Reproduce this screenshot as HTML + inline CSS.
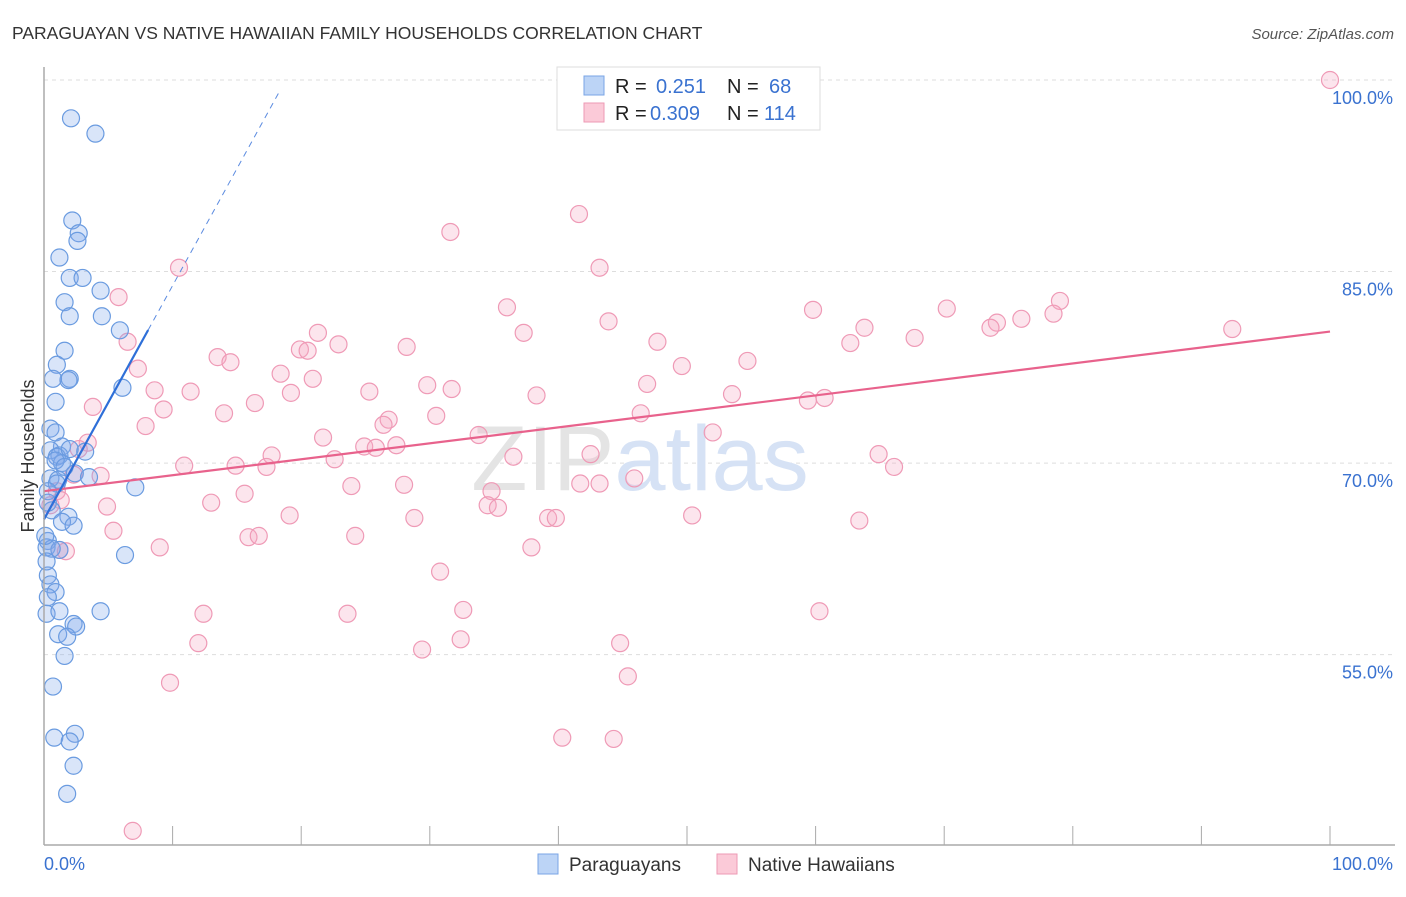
<!DOCTYPE html>
<html><head><meta charset="utf-8"><style>
body{margin:0;background:#fff;font-family:"Liberation Sans",sans-serif;}
svg text{font-family:"Liberation Sans",sans-serif;}
</style></head><body>
<svg id="chart" width="1406" height="892" xmlns="http://www.w3.org/2000/svg">
<text x="12" y="39" font-size="17.5" fill="#333">PARAGUAYAN VS NATIVE HAWAIIAN FAMILY HOUSEHOLDS CORRELATION CHART</text>
<text x="1394" y="39" font-size="15" fill="#555" font-style="italic" text-anchor="end">Source: ZipAtlas.com</text>
<g id="grid"></g>
<text x="640" y="490" font-size="92" fill="#e4e4e4" font-family="Liberation Serif" text-anchor="middle">ZIP<tspan fill="#d6e2f5" font-family="Liberation Sans">atlas</tspan></text>
<g id="pts"></g>
<g id="lines"></g>
<g id="axes"></g>
<text transform="translate(34,456) rotate(-90)" font-size="18" fill="#333" text-anchor="middle">Family Households</text>
<g>
<rect x="557" y="67" width="263" height="63" fill="#fff" stroke="#ddd"/>
<rect x="584" y="76" width="20" height="19" fill="#bcd4f6" stroke="#7aa5e6"/>
<rect x="584" y="103" width="20" height="19" fill="#fbcad8" stroke="#ee9ab4"/>
<text x="615" y="93" font-size="20" fill="#222">R = </text><text x="656" y="93" font-size="20" fill="#3a72d0">0.251</text>
<text x="727" y="93" font-size="20" fill="#222">N = </text><text x="769" y="93" font-size="20" fill="#3a72d0">68</text>
<text x="615" y="120" font-size="20" fill="#222">R = </text><text x="650" y="120" font-size="20" fill="#3a72d0">0.309</text>
<text x="727" y="120" font-size="20" fill="#222">N = </text><text x="764" y="120" font-size="20" fill="#3a72d0">114</text>
</g>
<g>
<rect x="538" y="854" width="20" height="20" fill="#bcd4f6" stroke="#7aa5e6"/>
<text x="569" y="871" font-size="19" fill="#333">Paraguayans</text>
<rect x="717" y="854" width="20" height="20" fill="#fbcad8" stroke="#ee9ab4"/>
<text x="748" y="871" font-size="19" fill="#333">Native Hawaiians</text>
</g>
</svg>
<script>
const yTicks=[100,85,70,55];
const yTickLabels=["100.0%","85.0%","70.0%","55.0%"];
const xTicks=[0,10,20,30,40,50,60,70,80,90,100];
const bluePts=[[2.1,97],[4.0,95.8],[2.2,89],[2.7,88],[2.6,87.4],[1.2,86.1],[2.0,84.5],[3.0,84.5],[4.4,83.5],[1.6,82.6],[2.0,81.5],[4.5,81.5],[5.9,80.4],[1.6,78.8],[1.0,77.7],[2.0,76.6],[1.9,76.5],[0.7,76.6],[6.1,75.9],[0.9,74.8],[0.5,72.7],[0.9,72.4],[1.4,71.3],[0.5,71],[1.2,70.6],[1.0,70.5],[3.2,70.9],[1.4,70],[0.9,70.2],[1.6,69.7],[2.4,69.2],[3.5,68.9],[0.5,68.8],[1.1,68.7],[7.1,68.1],[1.0,68.4],[0.3,67.8],[0.6,66.3],[1.9,65.8],[1.4,65.4],[2.3,65.1],[0.3,63.9],[0.2,63.4],[1.2,63.2],[0.6,63.3],[6.3,62.8],[0.3,61.2],[0.5,60.5],[0.9,59.9],[0.3,59.5],[0.2,58.2],[1.2,58.4],[4.4,58.4],[2.3,57.4],[2.5,57.2],[1.1,56.6],[1.8,56.4],[1.6,54.9],[0.7,52.5],[0.8,48.5],[2.4,48.8],[2.0,48.2],[2.3,46.3],[1.8,44.1],[0.2,62.3],[0.1,64.3],[0.3,66.9],[2.0,71.1]];
const pinkPts=[[100,100],[41.6,89.5],[31.6,88.1],[43.2,85.3],[10.5,85.3],[5.8,83],[36,82.2],[43.9,81.1],[59.8,82],[70.2,82.1],[79,82.7],[78.5,81.7],[76,81.3],[74.1,81],[73.6,80.6],[92.4,80.5],[21.3,80.2],[37.3,80.2],[63.8,80.6],[62.7,79.4],[67.7,79.8],[47.7,79.5],[6.5,79.5],[22.9,79.3],[19.9,78.9],[20.5,78.8],[28.2,79.1],[13.5,78.3],[14.5,77.9],[54.7,78],[49.6,77.6],[7.3,77.4],[18.4,77],[20.9,76.6],[29.8,76.1],[46.9,76.2],[31.7,75.8],[8.6,75.7],[11.4,75.6],[25.3,75.6],[19.2,75.5],[38.3,75.3],[53.5,75.4],[3.8,74.4],[9.3,74.2],[16.4,74.7],[59.4,74.9],[60.7,75.1],[14,73.9],[46.4,73.9],[30.5,73.7],[26.8,73.4],[26.4,73],[7.9,72.9],[33.8,72.2],[21.7,72],[52,72.4],[3.4,71.6],[2.7,71.1],[24.9,71.3],[25.8,71.2],[27.4,71.4],[17.7,70.6],[64.9,70.7],[36.5,70.5],[42.5,70.7],[22.6,70.3],[17.3,69.7],[10.9,69.8],[14.9,69.8],[66.1,69.7],[4.4,69.0],[2.3,69.1],[45.9,68.8],[23.9,68.2],[28,68.3],[41.7,68.4],[43.2,68.4],[34.8,67.8],[1.0,67.8],[15.6,67.6],[1.3,67.1],[13,66.9],[4.9,66.6],[34.5,66.7],[35.3,66.5],[50.4,65.9],[19.1,65.9],[28.8,65.7],[39.2,65.7],[39.8,65.7],[63.4,65.5],[5.4,64.7],[15.9,64.2],[16.7,64.3],[24.2,64.3],[37.9,63.4],[9.0,63.4],[1.2,63.2],[30.8,61.5],[32.6,58.5],[23.6,58.2],[12.4,58.2],[60.3,58.4],[32.4,56.2],[44.8,55.9],[12,55.9],[29.4,55.4],[45.4,53.3],[9.8,52.8],[40.3,48.5],[44.3,48.4],[6.9,41.2],[1.7,63.1],[0.5,66.7]];
const pinkFit=[67.8,12.5];
const blueFit=[65.6,183];
const NS='http://www.w3.org/2000/svg';
const X0=44,X1=1330,Y100=80,PX=12.77;
function xs(v){return X0+(X1-X0)*v/100;}
function ys(v){return Y100+(100-v)*PX;}
function mk(tag,attrs,parent){const e=document.createElementNS(NS,tag);for(const k in attrs)e.setAttribute(k,attrs[k]);parent.appendChild(e);return e;}
const grid=document.getElementById('grid'),axes=document.getElementById('axes'),pts=document.getElementById('pts'),lines=document.getElementById('lines');
yTicks.forEach((t,i)=>{
 const l=mk('line',{x1:X0,x2:1395,y1:ys(t),y2:ys(t),stroke:'#ddd','stroke-dasharray':'4,4'},grid);
 
 
 const tx=mk('text',{x:1393,y:ys(t)+24,'font-size':18,fill:'#3a72d0','text-anchor':'end'},axes);
 tx.textContent=yTickLabels[i];
 
 
});
const ax=mk('line',{x1:X0,x2:1395,y1:845,y2:845,stroke:'#aaa','stroke-width':1.5},axes);


const ay=mk('line',{x1:X0,x2:X0,y1:67,y2:845,stroke:'#aaa','stroke-width':1.5},axes);


xTicks.forEach(t=>{
 const l=mk('line',{x1:xs(t),x2:xs(t),y1:826,y2:845,stroke:'#aaa'},axes);
 
 
});
const xl0=mk('text',{x:44,y:870,'font-size':18,fill:'#3a72d0'},axes);xl0.textContent='0.0%';


const xl1=mk('text',{x:1393,y:870,'font-size':18,fill:'#3a72d0','text-anchor':'end'},axes);xl1.textContent='100.0%';


pinkPts.forEach(p=>{
 const c=mk('circle',{cx:xs(p[0]),cy:ys(p[1]),r:8.5,fill:'rgba(246,170,195,0.3)',stroke:'#ef9ab6','stroke-width':1.2},pts);
 
 
});
bluePts.forEach(p=>{
 const c=mk('circle',{cx:xs(p[0]),cy:ys(p[1]),r:8.5,fill:'rgba(130,170,235,0.3)',stroke:'#6a9be0','stroke-width':1.2},pts);
 
 
});
function pY(x){return pinkFit[0]+pinkFit[1]*x/100;}
function bY(x){return blueFit[0]+blueFit[1]*x/100;}
const pl=mk('line',{x1:xs(0),y1:ys(pY(0)),x2:xs(100),y2:ys(pY(100)),stroke:'#e8628c','stroke-width':2.2},lines);


const bl=mk('line',{x1:xs(0),y1:ys(bY(0)),x2:xs(8.1),y2:ys(bY(8.1)),stroke:'#2e6fd8','stroke-width':2.2},lines);


const bd=mk('line',{x1:xs(8.1),y1:ys(bY(8.1)),x2:xs(18.4),y2:ys(bY(18.4)),stroke:'#5b8be0','stroke-width':1,'stroke-dasharray':'6,5'},lines);


</script>
</body></html>
